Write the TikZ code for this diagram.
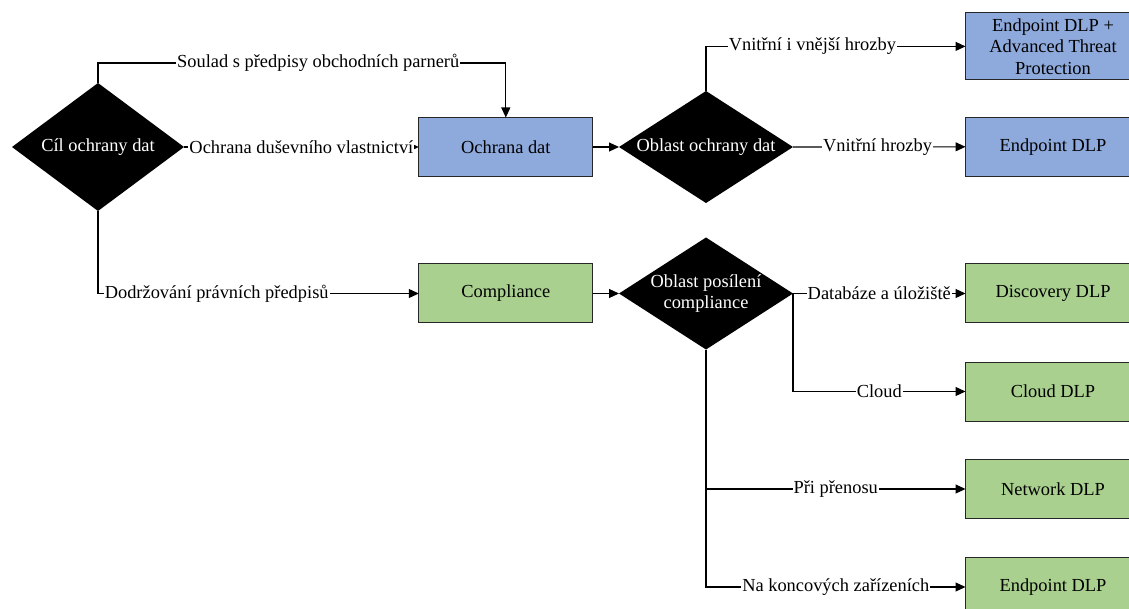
\documentclass[tikz,border=0pt]{standalone}
\usepackage{fontspec}
\setmainfont{Liberation Serif}
\newfontfamily\tnrfont{Liberation Serif}
\usetikzlibrary{shapes.geometric,arrows.meta}
\definecolor{boxblue}{HTML}{8EA9DB}
\definecolor{boxgreen}{HTML}{A9D08E}
\begin{document}
\begin{tikzpicture}[x=1pt,y=-1pt,
  every node/.style={font=\tnrfont\fontsize{18.4}{21.5}\selectfont},
  dia/.style={diamond, fill=black, text=white, inner sep=0pt, outer sep=0pt, align=center},
  boxb/.style={rectangle, draw=black!85, line width=1pt, fill=boxblue, minimum width=175pt, minimum height=59pt, align=center, inner sep=0pt, outer sep=0pt},
  boxg/.style={boxb, fill=boxgreen},
  conn/.style={line width=1.1pt, -{Triangle[length=10pt,width=9pt]}},
  lbl/.style={fill=white, inner xsep=1pt, inner ysep=0pt, text=black}]
\useasboundingbox (0,0) rectangle (1129,609);

% decision diamonds
\node[dia, minimum width=172pt, minimum height=128pt, shape aspect=1.34] (d1) at (98,147) {Cíl ochrany dat};
\node[dia, minimum width=174pt, minimum height=112pt, shape aspect=1.55] (d2) at (706,147) {Oblast ochrany dat};
\node[dia, minimum width=174pt, minimum height=112pt, shape aspect=1.6] (d3) at (706,293.5) {Oblast posílení\\compliance};

% boxes
\node[boxb, minimum width=174pt] (b1) at (505.8,147) {Ochrana dat};
\node[boxg, minimum width=174pt] (b2) at (505.8,293.5) {Compliance};
\node[boxb, minimum height=67pt] (b3) at (1053,46.4) {Endpoint DLP +\\Advanced Threat\\Protection};
\node[boxb] (b4) at (1053,146.8) {Endpoint DLP};
\node[boxg] (b5) at (1053,293.5) {Discovery DLP};
\node[boxg] (b6) at (1053,391.5) {Cloud DLP};
\node[boxg] (b7) at (1053,489) {Network DLP};
\node[boxg] (b8) at (1053,587) {Endpoint DLP};

% connectors
\coordinate (t1) at (98,63);
\draw[conn] (d1.north) -- (t1) -- node[lbl, pos=0.54] {Soulad s předpisy obchodních parnerů} (t1 -| b1.north) -- (b1.north);
\draw[conn] (d1.east) -- node[lbl, pos=0.5] {Ochrana duševního vlastnictví} (b1.west);
\draw[conn] (d1.south) |- node[lbl, pos=0.685] {Dodržování právních předpisů} (b2.west);
\draw[conn] (b1.east) -- (d2.west);
\draw[conn] (d2.north) |- node[lbl, pos=0.705] {Vnitřní i vnější hrozby} (b3.west);
\draw[conn] (d2.east) -- node[lbl, pos=0.49] {Vnitřní hrozby} (b4.west);
\draw[conn] (b2.east) -- (d3.west);
\draw[conn] (d3.east) -- node[lbl, pos=0.5] {Databáze a úložiště} (b5.west);
\draw[conn] (d3.east) |- node[lbl, pos=0.75] {Cloud} (b6.west);
\draw[conn] (d3.south) |- node[lbl, pos=0.75] {Při přenosu} (b7.west);
\draw[conn] (d3.south) |- node[lbl, pos=0.75] {Na koncových zařízeních} (b8.west);
\end{tikzpicture}
\end{document}
